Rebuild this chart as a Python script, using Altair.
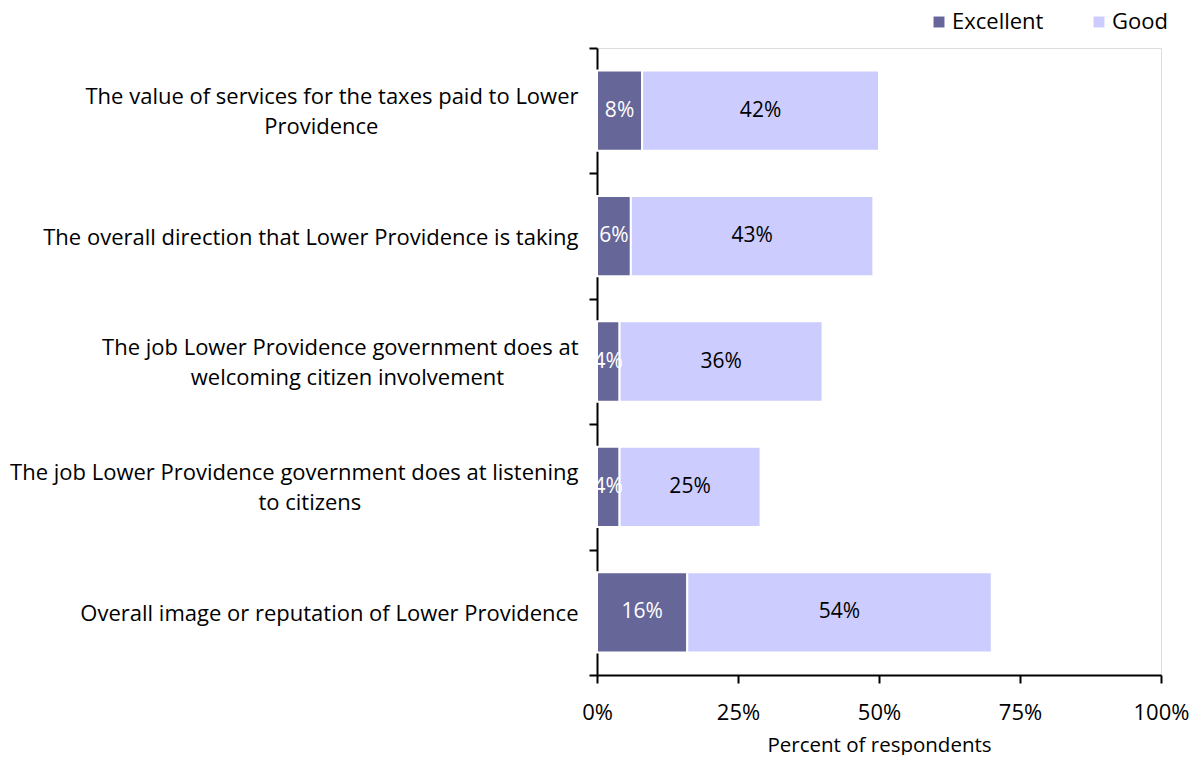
import altair as alt
import pandas as pd

# ---- data ----
label_lines = [
    ["The value of services for the taxes paid to Lower", "Providence"],
    ["The overall direction that Lower Providence is taking"],
    ["The job Lower Providence government does at", "welcoming citizen involvement"],
    ["The job Lower Providence government does at listening", "to citizens"],
    ["Overall image or reputation of Lower Providence"],
]
excellent = [8, 6, 4, 4, 16]
good = [42, 43, 36, 25, 54]
series = ["Excellent", "Good"]
colors = ["#666699", "#CCCCFF"]
x_ticks = [0, 25, 50, 75, 100]

FONT = "Open Sans"
FS = 21
NBSP_RATIO = 0.9
BLANK = "\u00a0\u200b"


def make_label(lines):
    # Lines sit on a half-line grid so that one- and two-line labels both
    # center on their band; the second line is centered under the first.
    if len(lines) == 1:
        return BLANK + "|" + lines[0]
    k = round((len(lines[0]) - len(lines[1])) * NBSP_RATIO)
    return lines[0] + "|" + BLANK + "|" + lines[1] + "\u00a0" * max(k, 0) + "\u200b"


categories = [make_label(l) for l in label_lines]

rows = []
for i, cat in enumerate(categories):
    for j, (s, vals) in enumerate(zip(series, [excellent, good])):
        rows.append({"cat": cat, "series": s, "value": vals[i], "order": j})
df = pd.DataFrame(rows)

y_enc = alt.Y(
    "cat:N",
    sort=categories,
    scale=alt.Scale(paddingInner=0, paddingOuter=0),
    axis=alt.Axis(
        title=None,
        labelExpr="split(datum.label, '|')",
        labelFont=FONT,
        labelFontSize=22,
        labelColor="black",
        labelLimit=800,
        labelPadding=11,
        labelLineHeight=15,
        labelOffset=-14,
        tickBand="extent",
        tickSize=8,
        tickWidth=2,
        tickColor="black",
        domainColor="black",
        domainWidth=2,
        grid=False,
    ),
)

x_scale = alt.Scale(domain=[0, 100], nice=False, zero=True)

base = (
    alt.Chart(df)
    .transform_stack(
        stack="value",
        groupby=["cat"],
        as_=["x0", "x1"],
        sort=[alt.SortField("order", order="ascending")],
    )
    .transform_calculate(mid="(datum.x0 + datum.x1) / 2", lbl="datum.value + '%'")
)

bars = base.mark_bar(height={"band": 0.64}, stroke="white", strokeWidth=2).encode(
    x=alt.X(
        "x0:Q",
        scale=x_scale,
        axis=alt.Axis(
            values=x_ticks,
            labelExpr="datum.value + '%'",
            labelFont=FONT,
            labelFontSize=22,
            labelColor="black",
            labelFlush=False,
            labelPadding=19,
            tickSize=8,
            tickWidth=2,
            tickColor="black",
            domainColor="black",
            domainWidth=2,
            grid=False,
            title="Percent of respondents",
            titleFont=FONT,
            titleFontSize=20.5,
            titleFontWeight="normal",
            titleColor="black",
            titlePadding=12,
        ),
    ),
    x2="x1:Q",
    y=y_enc,
    color=alt.Color(
        "series:N",
        scale=alt.Scale(domain=series, range=colors),
        legend=alt.Legend(
            title=None,
            orient="none",
            legendX=331,
            legendY=-37,
            direction="horizontal",
            symbolType="square",
            symbolSize=120,
            symbolStrokeWidth=0,
            labelFont=FONT,
            labelFontSize=22,
            labelColor="black",
            labelOffset=2,
            columnPadding=44,
            padding=0,
        ),
    ),
    order=alt.Order("order:Q"),
)

texts = base.mark_text(font=FONT, fontSize=FS, align="center", baseline="middle").encode(
    x=alt.X("mid:Q", scale=x_scale),
    y=alt.Y("cat:N", sort=categories),
    text="lbl:N",
    color=alt.condition(alt.datum.series == "Excellent", alt.value("white"), alt.value("black")),
)

chart = (
    alt.layer(bars, texts)
    .properties(
        width=564,
        height=627,
        autosize=alt.AutoSizeParams(type="none"),
        padding={"left": 589, "top": 40, "right": 30, "bottom": 80},
    )
    .configure_view(stroke=None)
    .configure(background="white")
)

chart.save("out.html", embed_options={"renderer": "svg", "actions": False})
